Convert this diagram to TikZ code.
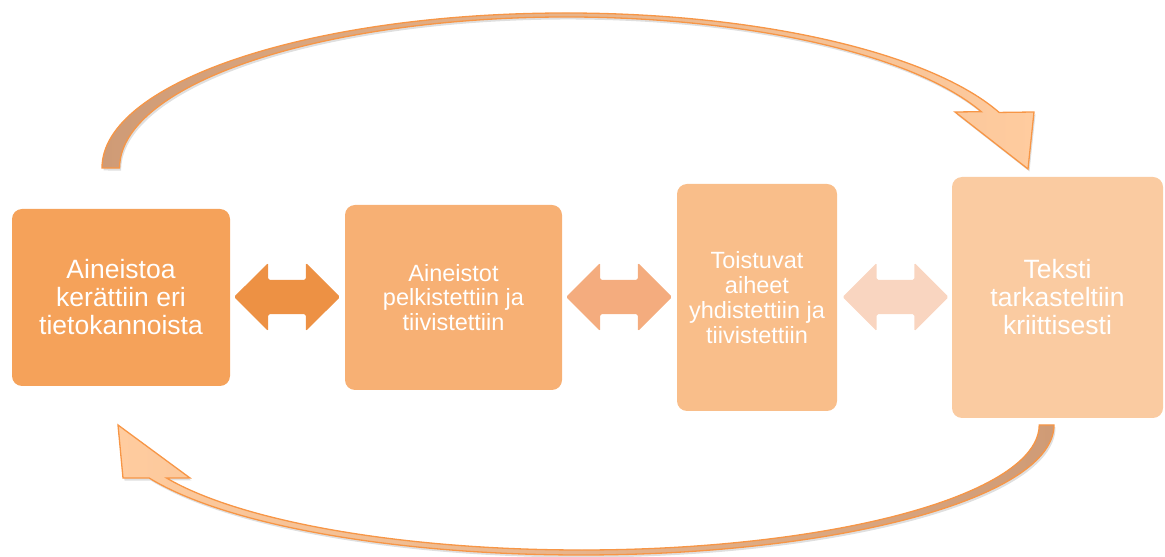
\documentclass[tikz,border=0pt]{standalone}
\usepackage{fontspec}
\setmainfont{Liberation Sans}
\usetikzlibrary{shapes.arrows,shadows,positioning}
\definecolor{c1}{HTML}{F5A25A}
\definecolor{c2}{HTML}{F7B074}
\definecolor{c3}{HTML}{F9BE8A}
\definecolor{c4}{HTML}{FACBA1}
\definecolor{d1}{HTML}{ED9144}
\definecolor{d2}{HTML}{F4AC7E}
\definecolor{d3}{HTML}{F9D5C0}
\definecolor{rim}{HTML}{F79646}
\definecolor{tan}{HTML}{CF9B76}
\definecolor{peach}{HTML}{FFCC9F}
\tikzset
{
    box/.style     = {rectangle, rounded corners=10pt, draw=none, text=white, align=center, inner sep=0pt},
    bigtext/.style = {font=\fontsize{26.5}{28}\selectfont},
    smalltext/.style = {font=\fontsize{23.5}{24.8}\selectfont},
    link/.style    = {double arrow, double arrow head extend=17pt, inner sep=0pt, text height=34pt, text depth=0pt, minimum height=106pt, rounded corners=1.5pt, draw=none},
    loop/.style    = {draw=rim, line width=1.3pt, line join=miter, drop shadow={opacity=0.25, shadow xshift=1.5pt, shadow yshift=-2.5pt}}
}
\begin{document}
\begin{tikzpicture}[x=1pt, y=1pt]
	\useasboundingbox (0,0) rectangle (1165,557);
	\node (b1) [box, bigtext, fill=c1, minimum width=218pt, minimum height=177pt] at (121,259.5) {Aineistoa\\ kerättiin eri\\ tietokannoista};
	\node (b2) [box, smalltext, fill=c2, minimum width=217pt, minimum height=185pt] at (453.5,259.5) {Aineistot\\ pelkistettiin ja\\ tiivistettiin};
	\node (b3) [box, smalltext, fill=c3, minimum width=160pt, minimum height=227pt] at (757,259.5) {Toistuvat\\ aiheet\\ yhdistettiin ja\\ tiivistettiin};
	\node (b4) [box, bigtext, fill=c4, minimum width=211pt, minimum height=241pt] at (1057.5,259.5) {Teksti\\ tarkasteltiin\\ kriittisesti};

	\node (a12) [link, fill=d1] at (287,260) {};
	\node (a23) [link, fill=d2] at (619,260) {};
	\node (a34) [link, fill=d3] at (895.5,260) {};

	% from the first box over the top to the last one
	\path [loop, left color=tan, right color=peach]
		(102,389) arc[start angle=180, end angle=21, x radius=464, y radius=155]
		-- (1034,445) -- (1028,388) -- (955,445) -- (981.3,445.3)
		arc[start angle=21.9, end angle=180, x radius=447, y radius=151] -- cycle;
	% and back along the bottom
	\path [loop, left color=peach, right color=tan]
		(1054,132) arc[start angle=0, end angle=-155.9, x radius=473, y radius=130]
		-- (123,79) -- (118,132) -- (190,79) -- (166.5,79)
		arc[start angle=-154.9, end angle=0, x radius=458, y radius=125] -- cycle;
\end{tikzpicture}
\end{document}
